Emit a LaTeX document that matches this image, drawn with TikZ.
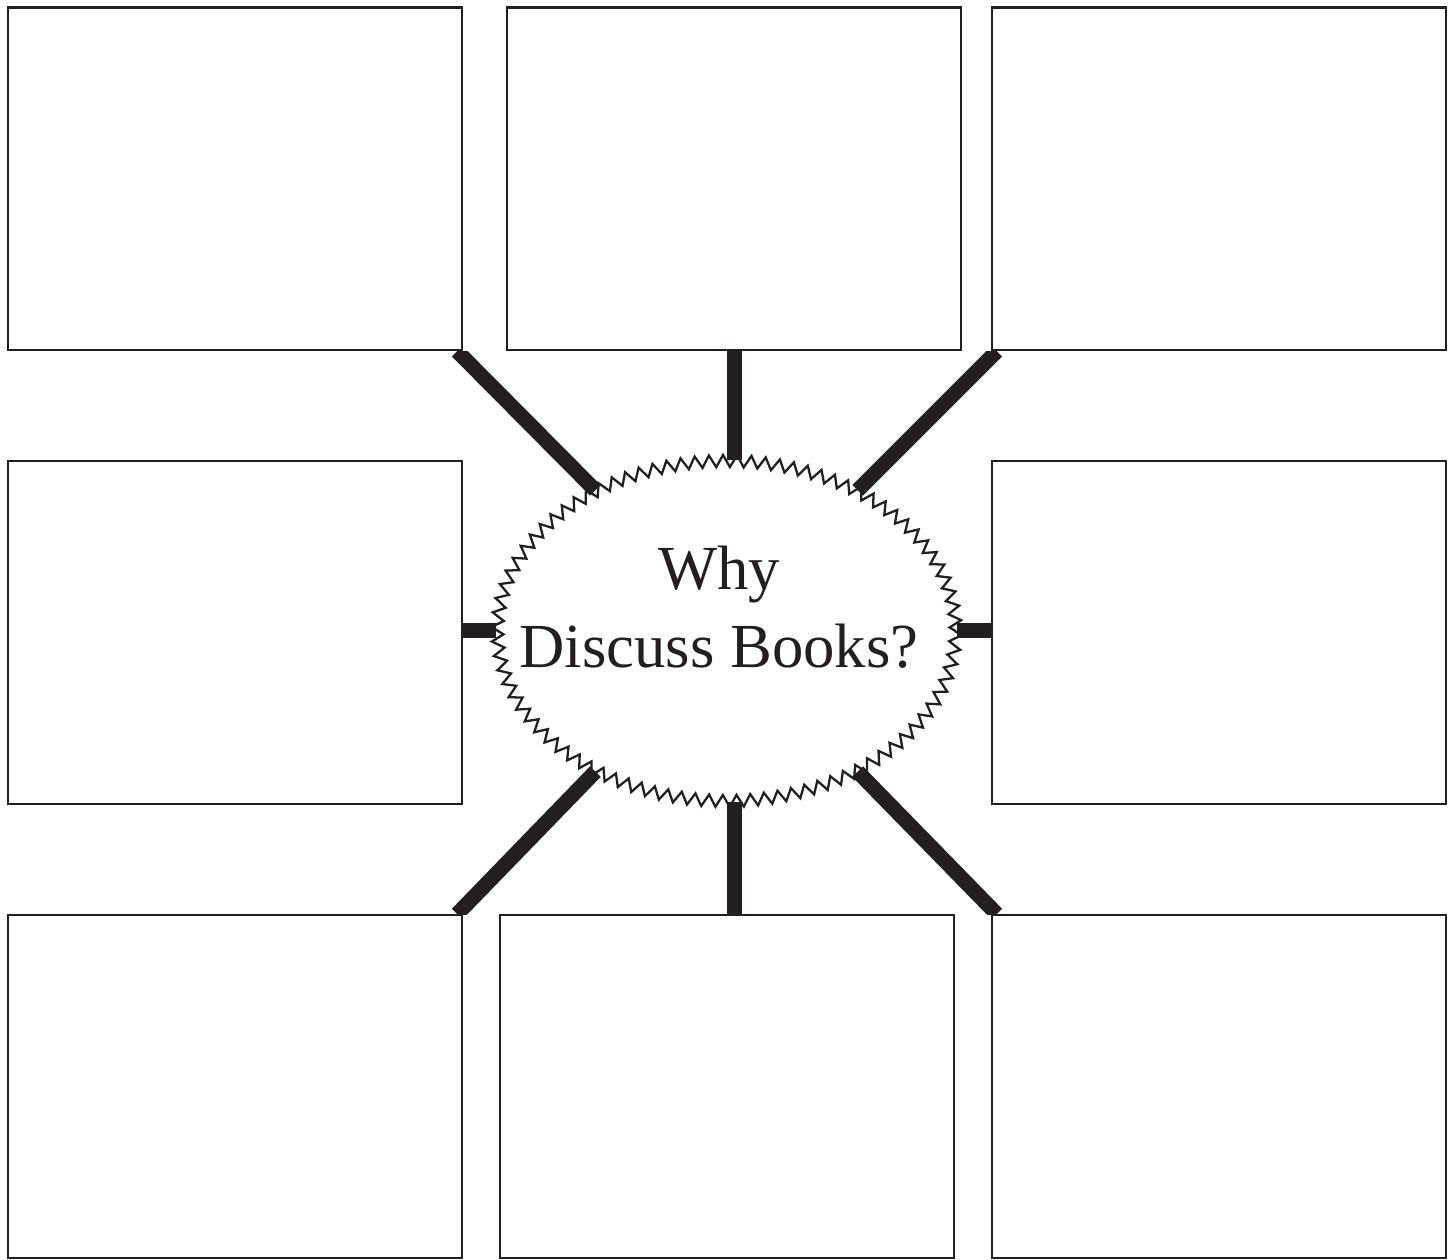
\documentclass[tikz,border=0pt]{standalone}
\usepackage{fontspec}
\setmainfont{Liberation Serif}
\usetikzlibrary{shapes.geometric,decorations.pathmorphing}
\definecolor{ink}{HTML}{231F20}
\begin{document}
\begin{tikzpicture}[
  box/.style={draw=ink, line width=1.4pt, fill=white, minimum width=9.08cm, minimum height=6.85cm, inner sep=0pt},
  spoke/.style={draw=ink, line width=0.3cm},
  hubshape/.style={draw=ink, line width=1.3pt, ellipse, minimum width=9.16cm, minimum height=6.8cm, inner sep=0pt,
    decorate, decoration={zigzag, segment length=0.28cm, amplitude=0.12cm}}
]
\useasboundingbox (0,0) rectangle (29.06,25.2);

% answer boxes
\node[box] (tl) at (4.70,21.625) {};
\node[box] (tm) at (14.68,21.625) {};
\node[box] (tr) at (24.38,21.625) {};
\node[box] (ml) at (4.70,12.55) {};
\node[box] (mr) at (24.38,12.55) {};
\node[box] (bl) at (4.70,3.47) {};
\node[box] (bm) at (14.54,3.47) {};
\node[box] (br) at (24.38,3.47) {};

% centre
\node[hubshape] (hub) at (14.53,12.58) {};
\node[font=\fontsize{35.7}{44.4}\selectfont, text=ink, align=center] (title)
  at ([shift={(-0.15,0.48)}]hub.center) {Why\\Discuss Books?};

% spokes
\begin{scope}
\clip (tl.south west) rectangle (br.north east);
\draw[spoke] ([xshift=-0.12cm]tl.south east) -- (hub.133);
\draw[spoke] (tm.south) -- (hub.north -| tm.south);
\draw[spoke] ([xshift=0.12cm]tr.south west) -- (hub.47);
\draw[spoke] (hub.west -| ml.east) -- (hub.west);
\draw[spoke] (hub.east) -- (hub.east -| mr.west);
\draw[spoke] ([xshift=-0.12cm]bl.north east) -- (hub.227);
\draw[spoke] (hub.south -| tm.south) -- (bm.north -| tm.south);
\draw[spoke] ([xshift=0.12cm]br.north west) -- (hub.313);
\end{scope}
\end{tikzpicture}
\end{document}
